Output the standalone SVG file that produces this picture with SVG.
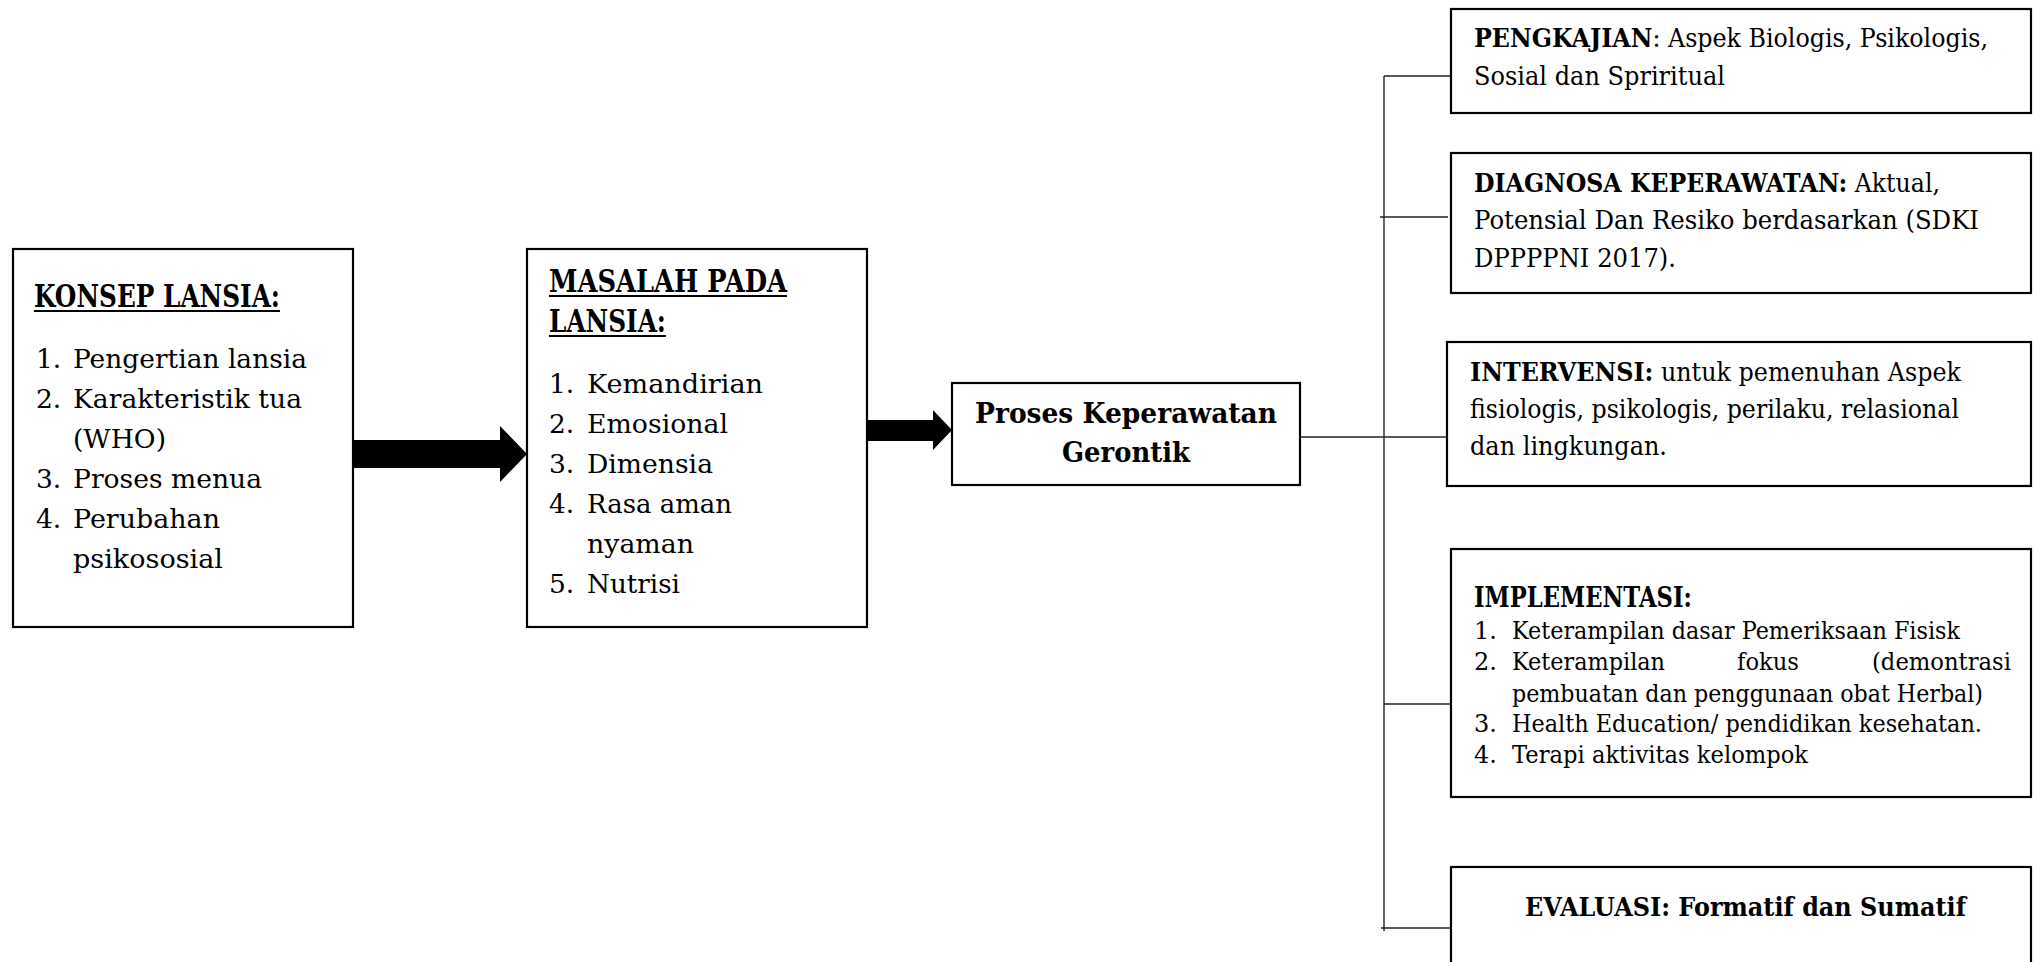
<svg xmlns="http://www.w3.org/2000/svg" width="2036" height="962" viewBox="0 0 2036 962">
<style>
.box{fill:#fff;stroke:#000;stroke-width:2.2}
.conn{stroke:#222;stroke-width:1.4;fill:none}
.arr{fill:#000;stroke:none}
.ul{stroke:#000;stroke-width:2}
text{font-family:"DejaVu Serif","Liberation Serif",serif;fill:#000}
.L{font-size:26.5px}
.H{font-size:31px;font-weight:bold}
.R{font-size:26px}
.S{font-size:24px}
.b{font-weight:bold}
</style>
<rect x="0" y="0" width="2036" height="962" fill="#fff"/>
<g id="connectors">
<polygon class="arr" points="353,440 500,440 500,426 527,454 500,482 500,468 353,468"/>
<polygon class="arr" points="867,420 933,420 933,410 952,430 933,450 933,441 867,441"/>
<line class="conn" x1="1300" y1="437" x2="1447" y2="437"/>
<line class="conn" x1="1384" y1="76" x2="1384" y2="931"/>
<line class="conn" x1="1384" y1="76" x2="1451" y2="76"/>
<line class="conn" x1="1380" y1="217" x2="1448" y2="217"/>
<line class="conn" x1="1384" y1="704" x2="1454" y2="704"/>
<line class="conn" x1="1381" y1="928" x2="1451" y2="928"/>
</g>
<g id="konsep">
<rect class="box" x="13" y="249" width="340" height="378"/>
<text class="H" x="34" y="307" textLength="246" lengthAdjust="spacingAndGlyphs">KONSEP LANSIA:</text>
<line class="ul" x1="34" y1="311" x2="280" y2="311"/>
<text class="L" x="36" y="368">1.</text>
<text class="L" x="73" y="368" textLength="234" lengthAdjust="spacingAndGlyphs">Pengertian lansia</text>
<text class="L" x="36" y="408">2.</text>
<text class="L" x="73" y="408" textLength="229" lengthAdjust="spacingAndGlyphs">Karakteristik tua</text>
<text class="L" x="73" y="448" textLength="93" lengthAdjust="spacingAndGlyphs">(WHO)</text>
<text class="L" x="36" y="488">3.</text>
<text class="L" x="73" y="488" textLength="189" lengthAdjust="spacingAndGlyphs">Proses menua</text>
<text class="L" x="36" y="528">4.</text>
<text class="L" x="73" y="528" textLength="147" lengthAdjust="spacingAndGlyphs">Perubahan</text>
<text class="L" x="73" y="568" textLength="150" lengthAdjust="spacingAndGlyphs">psikososial</text>
</g>
<g id="masalah">
<rect class="box" x="527" y="249" width="340" height="378"/>
<text class="H" x="549" y="292" textLength="238" lengthAdjust="spacingAndGlyphs">MASALAH PADA</text>
<line class="ul" x1="549" y1="296" x2="787" y2="296"/>
<text class="H" x="549" y="332" textLength="117" lengthAdjust="spacingAndGlyphs">LANSIA:</text>
<line class="ul" x1="549" y1="336" x2="666" y2="336"/>
<text class="L" x="549" y="393">1.</text>
<text class="L" x="587" y="393" textLength="176" lengthAdjust="spacingAndGlyphs">Kemandirian</text>
<text class="L" x="549" y="433">2.</text>
<text class="L" x="587" y="433" textLength="141" lengthAdjust="spacingAndGlyphs">Emosional</text>
<text class="L" x="549" y="473">3.</text>
<text class="L" x="587" y="473" textLength="126" lengthAdjust="spacingAndGlyphs">Dimensia</text>
<text class="L" x="549" y="513">4.</text>
<text class="L" x="587" y="513" textLength="145" lengthAdjust="spacingAndGlyphs">Rasa aman</text>
<text class="L" x="587" y="553" textLength="107" lengthAdjust="spacingAndGlyphs">nyaman</text>
<text class="L" x="549" y="593">5.</text>
<text class="L" x="587" y="593" textLength="93" lengthAdjust="spacingAndGlyphs">Nutrisi</text>
</g>
<g id="proses">
<rect class="box" x="952" y="383" width="348" height="102"/>
<text class="L b" x="975" y="423" style="font-size:28px" textLength="302" lengthAdjust="spacingAndGlyphs">Proses Keperawatan</text>
<text class="L b" x="1062" y="462" style="font-size:28px" textLength="128" lengthAdjust="spacingAndGlyphs">Gerontik</text>
</g>
<g id="pengkajian">
<rect class="box" x="1451" y="9" width="580" height="104"/>
<text class="R" x="1474" y="47" textLength="514" lengthAdjust="spacingAndGlyphs"><tspan class="b">PENGKAJIAN</tspan>: Aspek Biologis, Psikologis,</text>
<text class="R" x="1474" y="85" textLength="251" lengthAdjust="spacingAndGlyphs">Sosial dan Spriritual</text>
</g>
<g id="diagnosa">
<rect class="box" x="1451" y="153" width="580" height="140"/>
<text class="R" x="1474" y="192" textLength="466" lengthAdjust="spacingAndGlyphs"><tspan class="b">DIAGNOSA KEPERAWATAN:</tspan> Aktual,</text>
<text class="R" x="1474" y="229" textLength="505" lengthAdjust="spacingAndGlyphs">Potensial Dan Resiko berdasarkan (SDKI</text>
<text class="R" x="1474" y="267" textLength="202" lengthAdjust="spacingAndGlyphs">DPPPPNI 2017).</text>
</g>
<g id="intervensi">
<rect class="box" x="1447" y="342" width="584" height="144"/>
<text class="R" x="1470" y="381" textLength="491" lengthAdjust="spacingAndGlyphs"><tspan class="b">INTERVENSI:</tspan> untuk pemenuhan Aspek</text>
<text class="R" x="1470" y="418" textLength="489" lengthAdjust="spacingAndGlyphs">fisiologis, psikologis, perilaku, relasional</text>
<text class="R" x="1470" y="455" textLength="197" lengthAdjust="spacingAndGlyphs">dan lingkungan.</text>
</g>
<g id="implementasi">
<rect class="box" x="1451" y="549" width="580" height="248"/>
<text class="R b" x="1474" y="607" style="font-size:27px" textLength="218" lengthAdjust="spacingAndGlyphs">IMPLEMENTASI:</text>
<text class="S" x="1474" y="639">1.</text>
<text class="S" x="1512" y="639" textLength="448" lengthAdjust="spacingAndGlyphs">Keterampilan dasar Pemeriksaan Fisisk</text>
<text class="S" x="1474" y="670">2.</text>
<text class="S" x="1512" y="670" textLength="153" lengthAdjust="spacingAndGlyphs">Keterampilan</text>
<text class="S" x="1737" y="670" textLength="62" lengthAdjust="spacingAndGlyphs">fokus</text>
<text class="S" x="1872" y="670" textLength="139" lengthAdjust="spacingAndGlyphs">(demontrasi</text>
<text class="S" x="1512" y="702" textLength="471" lengthAdjust="spacingAndGlyphs">pembuatan dan penggunaan obat Herbal)</text>
<text class="S" x="1474" y="732">3.</text>
<text class="S" x="1512" y="732" textLength="470" lengthAdjust="spacingAndGlyphs">Health Education/ pendidikan kesehatan.</text>
<text class="S" x="1474" y="763">4.</text>
<text class="S" x="1512" y="763" textLength="296" lengthAdjust="spacingAndGlyphs">Terapi aktivitas kelompok</text>
</g>
<g id="evaluasi">
<rect class="box" x="1451" y="867" width="580" height="120"/>
<text class="R b" x="1525" y="916" textLength="441" lengthAdjust="spacingAndGlyphs">EVALUASI: Formatif dan Sumatif</text>
</g>
</svg>
